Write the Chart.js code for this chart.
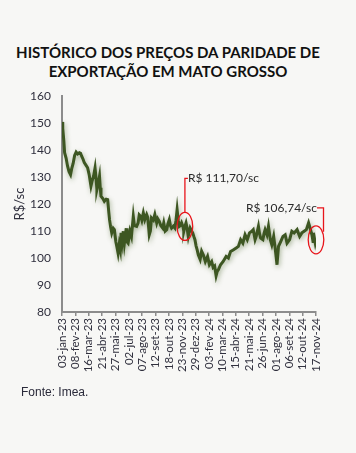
<!DOCTYPE html>
<html><head><meta charset="utf-8">
<script src="https://cdn.jsdelivr.net/npm/chart.js@4"></script>
<style>
html,body{margin:0;padding:0;background:#f7f7f5;}
#wrap{position:relative;width:356px;height:453px;overflow:hidden;}
#title{position:absolute;left:0;top:43px;width:336px;text-align:center;font-family:Lato,"Open Sans",sans-serif;font-weight:700;font-size:15px;line-height:19px;color:#111;}
#src{position:absolute;left:21px;top:385px;font-family:"Liberation Sans",Arial,sans-serif;font-size:12px;color:#2a2a3a;}
canvas{position:absolute;left:0;top:0;}
</style></head>
<body><div id="wrap">
<div id="title">HISTÓRICO DOS PREÇOS DA PARIDADE DE<br>EXPORTAÇÃO EM MATO GROSSO</div>
<canvas id="c" width="356" height="453"></canvas>
<div id="src">Fonte: Imea.</div>
</div>
<script>
const startDate = Date.UTC(2023,0,3);
const monthNames = ["jan","fev","mar","abr","mai","jun","jul","ago","set","out","nov","dez"];
const tickDays = [0,36,72,108,144,180,216,252,288,324,360,396,432,468,504,540,576,612,648,684];
const yTicks = [80,90,100,110,120,130,140,150,160];
const days = [0,2,5,7,11,15,19,23,26,30,34,38,42,47,50,53,57,60,64,69,73,78,81,85,89,92,94,98,101,103,105,110,114,119,123,126,128,131,134,138,141,145,148,151,154,157,159,162,165,168,173,175,178,183,187,192,195,201,205,208,212,215,219,223,228,231,235,238,241,246,250,255,258,262,266,271,274,278,282,285,289,292,295,300,304,307,310,313,316,319,322,326,328,331,334,337,340,343,345,349,352,355,358,361,364,367,372,376,381,386,392,397,403,407,411,415,418,421,427,434,442,448,454,461,469,475,481,487,493,499,505,511,515,520,523,529,532,535,541,544,547,552,556,561,565,570,574,577,579,583,589,595,601,606,613,619,625,633,640,646,652,658,664,668,673,676,677,682,684];
const prices = [150.4,148,143.3,139,137,134,132,130.9,133,135,138,139.2,138.5,139,138.8,137.7,136.5,135.3,134.5,133.4,131,126.6,128.5,130.3,133.4,129,125.4,128,130.3,126,122.9,122,121,121.8,121.6,117,114.2,111.5,109.3,111,110.5,106,104,101.8,105,103,109.3,106,109.9,105.5,111,106,105.5,109.9,108,115.4,112,111.7,113,116,115.4,114,116.7,114.2,116.1,115,108.6,110,114.8,114,116.1,113,114.5,113.6,112,111.1,113,110,110.5,112.5,114.2,112,111.1,111.8,111.1,114,117.9,114,111.7,112,113,111.5,109.9,111.7,113,111,108,110,111.1,110,109.3,108,106.8,104.5,103,101.2,99.5,102.5,101,98.7,100.6,97.5,98.7,96.5,97,93.4,95,95.6,97.5,98.7,100.6,100,102.4,103,103.7,104.3,106.8,105.5,108.6,106.8,109.3,109.9,110.5,106.8,108,111.7,109,107.4,106.8,109,110.5,108.6,111.7,106.8,104.9,108,103.7,100,97.5,104.3,106.1,108,108.6,105.5,106.8,109.9,109.3,110.5,108,109.3,109.9,110.5,113,111.1,108.6,106.1,109.3,105.5,106.74];
const callouts = [
  {day:331, value:111.70, text:"R$ 111,70/sc"},
  {day:684, value:106.74, text:"R$ 106,74/sc"}
];

function fmtDay(v){
  const d = new Date(startDate + v*86400000);
  const dd = String(d.getUTCDate()).padStart(2,"0");
  return dd + "-" + monthNames[d.getUTCMonth()] + "-" + String(d.getUTCFullYear()).slice(2);
}

const shadowPlugin = {
  id:"shadow",
  beforeDatasetDraw(chart){
    const ctx = chart.ctx; ctx.save();
    ctx.shadowColor = "rgba(70,100,40,0.45)";
    ctx.shadowBlur = 5; ctx.shadowOffsetX = 1; ctx.shadowOffsetY = 2;
  },
  afterDatasetDraw(chart){ chart.ctx.restore(); }
};

const calloutPlugin = {
  id:"callouts",
  afterDatasetsDraw(chart){
    const ctx = chart.ctx, xs = chart.scales.x, ys = chart.scales.y;
    ctx.save();
    ctx.strokeStyle = "#e8151b"; ctx.lineWidth = 1.3;
    ctx.font = "12px Lato, 'Open Sans', sans-serif";
    ctx.fillStyle = "#2b2b2b"; ctx.textBaseline = "middle";
    callouts.forEach((c,i)=>{
      const cx = xs.getPixelForValue(c.day), cy = ys.getPixelForValue(c.value);
      ctx.beginPath(); ctx.ellipse(cx, cy, 7.8, 14, 0, 0, Math.PI*2); ctx.stroke();
      if(i===0){
        const ty = cy - 48;
        ctx.beginPath(); ctx.moveTo(cx, cy-14); ctx.lineTo(cx, ty); ctx.lineTo(cx+3, ty); ctx.stroke();
        ctx.textAlign = "left"; ctx.fillText(c.text, cx+3, ty);
      } else {
        const ty = cy - 32, lx = cx + 7.5;
        ctx.beginPath(); ctx.moveTo(lx, cy-8); ctx.lineTo(lx, ty); ctx.lineTo(cx+1, ty); ctx.stroke();
        ctx.textAlign = "right"; ctx.fillText(c.text, cx+1, ty);
      }
    });
    ctx.restore();
  }
};

new Chart(document.getElementById("c"), {
  type:"line",
  data:{ datasets:[{
    data: days.map((d,i)=>({x:d, y:prices[i]})),
    borderColor:"#3d5622", borderWidth:3, pointRadius:0, tension:0, fill:false
  }]},
  options:{
    responsive:false, animation:false,
    layout:{padding:{left:12, right:40, top:96, bottom:81}},
    plugins:{legend:{display:false}, tooltip:{enabled:false}},
    scales:{
      x:{
        type:"linear", min:0, max:684,
        afterBuildTicks(s){ s.ticks = tickDays.map(v=>({value:v})); },
        afterFit(s){ s.height = 60; },
        grid:{drawOnChartArea:false, drawTicks:true, tickLength:4, color:"#8c8c8c", lineWidth:1.5},
        border:{display:true, color:"#8c8c8c", width:2},
        ticks:{autoSkip:false, maxRotation:90, minRotation:90, padding:2, color:"#30303e",
               font:{family:"Lato, 'Open Sans', sans-serif", size:11.5},
               callback:(v)=>fmtDay(v)}
      },
      y:{
        min:80, max:160,
        afterBuildTicks(s){ s.ticks = yTicks.map(v=>({value:v})); },
        afterFit(s){ s.width = 50; },
        grid:{drawOnChartArea:false, drawTicks:false, color:"#8c8c8c"},
        border:{display:true, color:"#8c8c8c", width:2},
        ticks:{padding:11, color:"#30303e", font:{family:"Lato, 'Open Sans', sans-serif", size:12}},
        title:{display:true, text:"R$/sc", color:"#30303e", padding:{top:0,bottom:0},
               font:{family:"Lato, 'Open Sans', sans-serif", size:13}}
      }
    }
  },
  plugins:[shadowPlugin, calloutPlugin]
});
</script>
</body></html>
